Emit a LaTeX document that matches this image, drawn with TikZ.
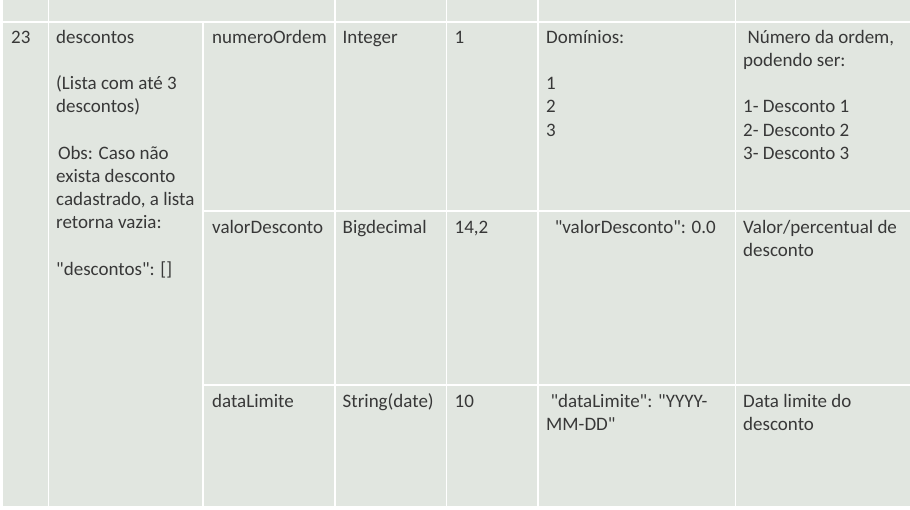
\documentclass[tikz,border=0pt]{standalone}
\usepackage{fontspec}
\newfontfamily\cellfont{Carlito}
\definecolor{cellbg}{RGB}{225,230,224}
\definecolor{txt}{RGB}{56,56,56}
\newcommand{\bl}{23.2pt}
\newcommand{\cell}[1]{\parbox[t]{300pt}{#1}}
\begin{document}
\begin{tikzpicture}[x=1pt,y=-1pt,
  gridline/.style={draw=white,line width=1.6pt},
  celltext/.style={anchor=base west,inner sep=0pt,text=txt,
    font=\cellfont\fontsize{19pt}{23.2pt}\selectfont},
]
\useasboundingbox (0,0) rectangle (910,509);
\fill[cellbg] (3,0) rectangle (910,506);
% grid
\draw[gridline] (48.3,0) -- (48.3,506);
\draw[gridline] (203,21.7) -- (203,506);
\draw[gridline] (335,0) -- (335,506);
\draw[gridline] (446.5,0) -- (446.5,506);
\draw[gridline] (538,0) -- (538,506);
\draw[gridline] (735.5,0) -- (735.5,506);
\draw[gridline] (3,21.7) -- (910,21.7);
\draw[gridline] (203,210.7) -- (910,210.7);
\draw[gridline] (203,385) -- (910,385);
% column 1 and 2
\node[celltext] (num) at (11,43.3) {23};
\node[celltext] (campo) at (56,43.3) {\cell{descontos\\[\bl](Lista com até 3\\descontos)\\[\bl]\hspace*{1.8pt}Obs: Caso não\\exista desconto\\cadastrado, a lista\\retorna vazia:\\[\bl]"descontos": []}};
% row 1
\node[celltext] (n1) at (212,43.3) {numeroOrdem};
\node[celltext] (t1) at (342.5,43.3) {Integer};
\node[celltext] (s1) at (454.5,43.3) {1};
\node[celltext] (d1) at (546,43.3) {\cell{Domínios:\\[\bl]1\\2\\3}};
\node[celltext] (x1) at (743,43.3) {\cell{\hspace*{4.3pt}Número da ordem,\\podendo ser:\\[\bl]1- Desconto 1\\2- Desconto 2\\3- Desconto 3}};
% row 2
\node[celltext] (n2) at (212,233.5) {valorDesconto};
\node[celltext] (t2) at (342.5,233.5) {Bigdecimal};
\node[celltext] (s2) at (454.5,233.5) {14,2};
\node[celltext] (d2) at (546,233.5) {\hspace*{8.6pt}"valorDesconto": 0.0};
\node[celltext] (x2) at (743,233.5) {\cell{Valor/percentual de\\desconto}};
% row 3
\node[celltext] (n3) at (212,407) {dataLimite};
\node[celltext] (t3) at (342.5,407) {String(date)};
\node[celltext] (s3) at (454.5,407) {10};
\node[celltext] (d3) at (546,407) {\cell{\hspace*{4.3pt}"dataLimite": "YYYY-\\MM-DD"}};
\node[celltext] (x3) at (743,407) {\cell{Data limite do\\desconto}};
\end{tikzpicture}
\end{document}
